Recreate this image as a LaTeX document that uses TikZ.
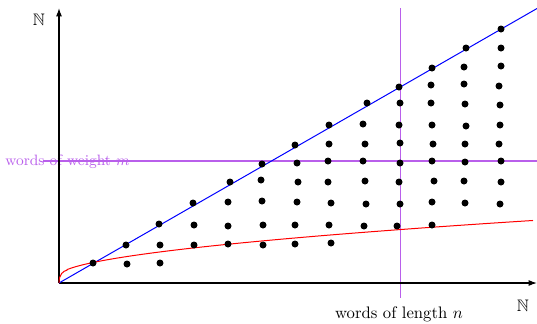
\documentclass[tikz,border=0pt]{standalone}
\usepackage{amssymb}
\usetikzlibrary{arrows.meta}
\definecolor{wordpurple}{RGB}{185,95,235}
\begin{document}
\begin{tikzpicture}[x=0.6pt,y=-0.6pt,
  dot/.style={circle,fill=black,inner sep=0pt,minimum size=4.2pt},
  axis/.style={line width=0.8pt,-{Latex[length=5pt,width=3.6pt]}},
  marker/.style={draw=wordpurple,line width=0.6pt},
  lbl/.style={font=\fontsize{10}{12}\selectfont,inner sep=0pt,anchor=base}]
\useasboundingbox (0,0) rectangle (537,323);
\coordinate (O) at (59,283);
\coordinate (ytop) at (59,8);
\coordinate (xend) at (537,283);
\coordinate (bend) at (537,8.5);
\coordinate (hl) at (43,161);
\coordinate (hr) at (537,161);
\coordinate (vt) at (400,8);
\coordinate (vb) at (400,298);
% marker lines
\draw[marker,line width=0.7pt] (hl) -- (hr);
\draw[marker] (vt) -- (vb);
\node[lbl,font=\fontsize{9}{11}\selectfont,text=wordpurple] (wlab) at (67.5,165) {words of weight $m$};
\node[lbl] (llab) at (399,318) {words of length $n$};
% axes
\draw[axis] (O) -- (ytop);
\draw[axis] (O) -- (xend);
\node[inner sep=0pt] (ny) at (39,19.5) {$\mathbb{N}$};
\node[inner sep=0pt] (nx) at (523,306) {$\mathbb{N}$};
% blue line
\draw[blue,line width=0.6pt] (O) -- (bend);
% red curve
\draw[red,line width=0.6pt] (O) .. controls (59,274) and (63,271.3) .. (67,270.1)
  -- plot[domain=8:474,samples=90] ({59+\x},{283-7.6-1.854*pow(\x,0.55)});
% dots
\foreach \p [count=\k] in {
 (93,263),
 (126,245),(127,264),
 (159,224),(160,245),(160,263),
 (193,203),(194,225),(194,245),
 (230,182),(228,202),(228,226),(228,244),
 (262,164),(261,180),(262,201),(263,225),(263,245),
 (295,145),(297,163),(298,182),(297,202),(295,225),(295,244),
 (329,125),(329,144),(328,161),(328,182),(331,203),(329,225),(331,243),
 (367,103),(363,124),(365,144),(363,161),(365,181),(366,204),(364,226),
 (399,87),(400,103),(399,125),(400,143),(400,163),(399,182),(400,204),(397,226),
 (432,68),(431,85),(431,103),(432,125),(433,144),(432,161),(434,181),(432,202),(432,225),
 (466,48),(464,67),(464,84),(465,104),(466,126),(465,144),(465,162),(464,181),(465,203),
 (501,29),(501,48),(501,66),(499,86),(500,105),(500,125),(499,144),(501,161),(501,182),(500,204)}
 \node[dot] (d\k) at \p {};
\end{tikzpicture}
\end{document}
